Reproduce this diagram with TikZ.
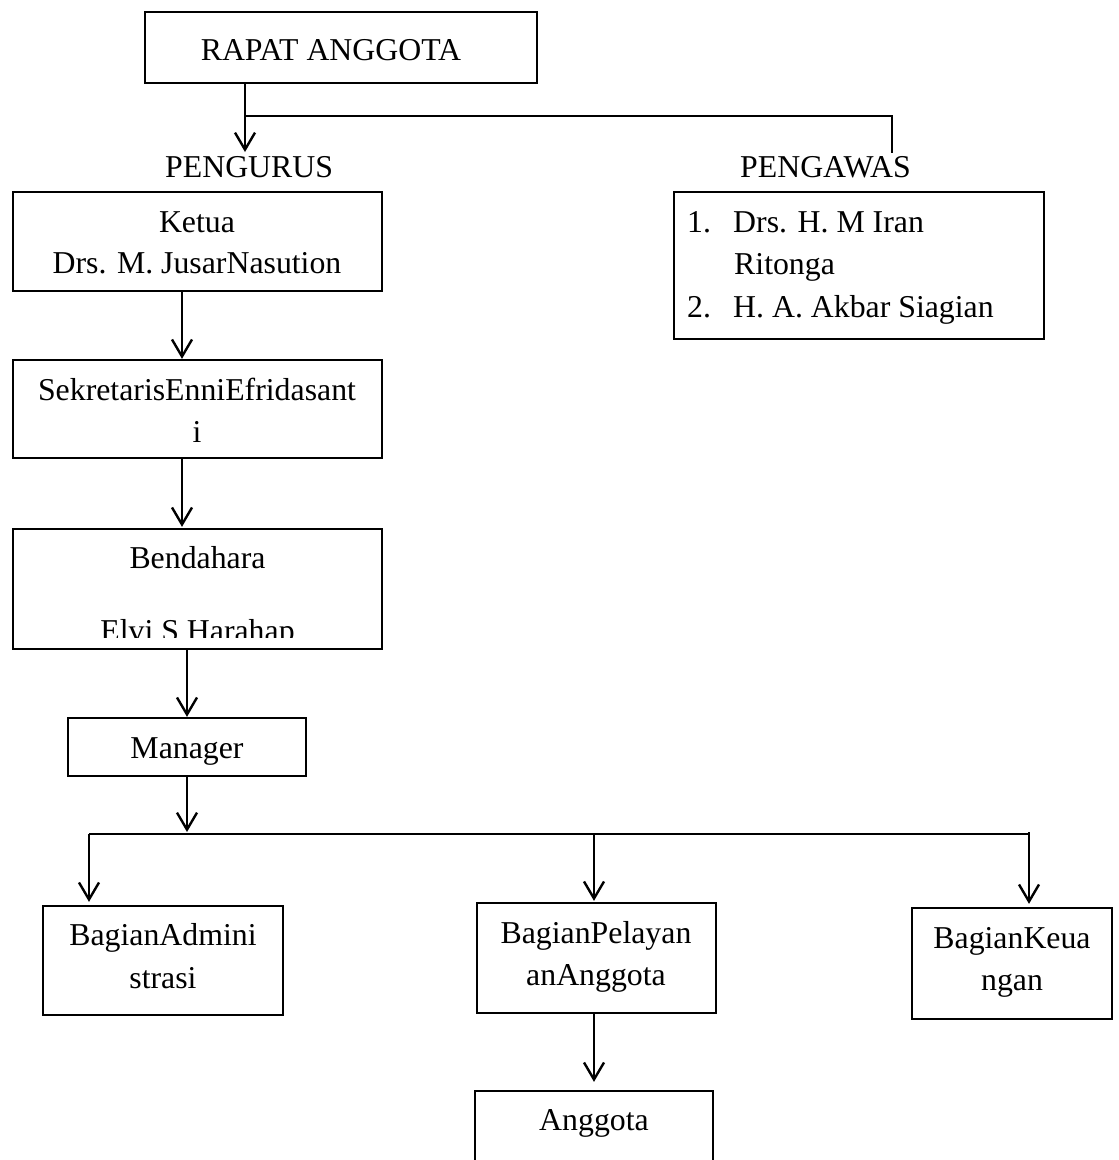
\documentclass[tikz,border=0pt]{standalone}
\usepackage{fontspec}
\setmainfont{Liberation Serif}
\usetikzlibrary{arrows.meta,calc}
\begin{document}
\begin{tikzpicture}[x=1pt,y=-1pt,
  box/.style={draw, rectangle, line width=2.3pt, inner sep=0pt},
  txt/.style={anchor=base, inner sep=0pt, font=\fontsize{31.8}{40}\selectfont},
  ln/.style={line width=2.4pt},
  arr/.style={line width=2.4pt, -{Straight Barb[length=17pt,width=20pt]}}]
\fill[white] (0,0) rectangle (1119,1160);
\clip (0,0) rectangle (1119,1160);

% boxes
\node[box, minimum width=392pt, minimum height=71pt] (rapat) at (341,47.5) {};
\node[box, minimum width=369pt, minimum height=99pt] (ketua) at (197.5,241.5) {};
\node[box, minimum width=369pt, minimum height=98pt] (sek) at (197.5,409) {};
\node[box, minimum width=369pt, minimum height=120pt] (bend) at (197.5,589) {};
\node[box, minimum width=238pt, minimum height=58pt] (manager) at (187,747) {};
\node[box, minimum width=240pt, minimum height=109pt] (admin) at (163,960.5) {};
\node[box, minimum width=239pt, minimum height=110pt] (pel) at (596.5,958) {};
\node[box, minimum width=200pt, minimum height=111pt] (keu) at (1012,963.5) {};
\node[box, minimum width=238pt, minimum height=100pt] (anggota) at (594,1141) {};
\node[box, minimum width=370pt, minimum height=147pt] (pwbox) at (859,265.5) {};

% texts
\node[txt] (tRapat) at (331,60) {RAPAT ANGGOTA};
\node[txt, anchor=base west] (pengurus) at (165,177) {PENGURUS};
\node[txt, anchor=base west] (pengawas) at (740,177) {PENGAWAS};
\node[txt] (tK1) at (197,232) {Ketua};
\node[txt] (tK2) at (197,273) {Drs. M. JusarNasution};
\node[txt] (tS1) at (197,400) {SekretarisEnniEfridasant};
\node[txt] (tS2) at (197,442) {i};
\node[txt] (tB1) at (197.5,568) {Bendahara};
\begin{scope}
  \clip (13,529) rectangle (382,637);
  \node[txt] (tB2) at (197.5,641) {Elvi S Harahap};
\end{scope}
\node[txt] (tM) at (187,758) {Manager};
\node[txt] (tA1) at (163,945) {BagianAdmini};
\node[txt] (tA2) at (163,988) {strasi};
\node[txt] (tP1) at (596,943) {BagianPelayan};
\node[txt] (tP2) at (596,985) {anAnggota};
\node[txt] (tU1) at (1012,948) {BagianKeua};
\node[txt] (tU2) at (1012,990) {ngan};
\node[txt] (tG) at (594,1130) {Anggota};
\node[txt, anchor=base west] (i1) at (687,232) {1.};
\node[txt, anchor=base west] (i1t) at (733,232) {Drs. H. M Iran};
\node[txt, anchor=base west] (i1u) at (734,274) {Ritonga};
\node[txt, anchor=base west] (i2) at (687,317) {2.};
\node[txt, anchor=base west] (i2t) at (733,317) {H. A. Akbar Siagian};

% connectors
\coordinate (jTop) at (245,116);
\coordinate (pgTip) at (245,152);
\coordinate (pwDrop) at (892,153);
\draw[arr] (rapat.south -| jTop) -- (pgTip);
\draw[ln] (jTop) -- (jTop -| pwDrop) -- (pwDrop);

\draw[arr] ([xshift=-15.5pt]ketua.south) -- ([xshift=-15.5pt]sek.north);
\draw[arr] ([xshift=-15.5pt]sek.south) -- ([xshift=-15.5pt,yshift=1pt]bend.north);
\draw[arr] ([xshift=-10.5pt]bend.south) -- (manager.north);

\coordinate (busC) at (187,832);
\coordinate (busL) at (89,834);
\coordinate (busM) at (594,834);
\coordinate (busR) at (1029,834);
\draw[arr] (manager.south) -- (busC);
\draw[ln] (busL) -- (busR);
\draw[arr, shorten >=3pt] (busL) -- (busL |- admin.north);
\draw[arr, shorten >=1pt] (busM) -- (busM |- pel.north);
\draw[arr, shorten >=3pt] ([yshift=2pt]busR) -- (busR |- keu.north);
\draw[arr, shorten >=8pt] (pel.south -| busM) -- (anggota.north);
\end{tikzpicture}
\end{document}
